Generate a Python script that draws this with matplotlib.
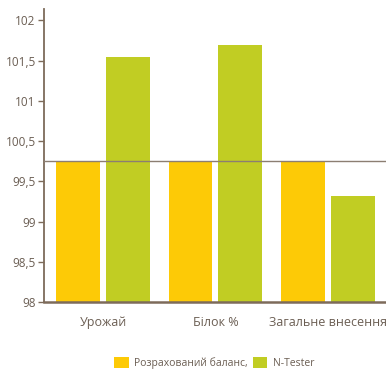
import numpy as np
import matplotlib.pyplot as plt
from matplotlib.ticker import FixedLocator

# --- data ---
categories = ['Урожай', 'Білок %', 'Загальне внесення']
balance_vals = [100.0, 100.0, 100.0]
ntester_vals = [101.48, 101.65, 99.51]
series_names = ['Розрахований баланс,', 'N-Tester']
ytick_labels = ['98', '98,5', '99', '99,5', '100,5', '101', '101,5', '102']
reference_level = 100.0

plt.rcParams['font.family'] = ['Open Sans', 'DejaVu Sans']

text_color = '#6b5e53'
axis_color = '#7d6b5a'
yellow = '#fdca06'
green = '#c1cd23'

fig = plt.figure(figsize=(3.86, 3.69), dpi=100)
ax = fig.add_axes([0.114, 0.181, 0.886, 0.794])

x = np.arange(len(categories))
width = 0.39
offset = 0.222
base = 98.0
b1 = ax.bar(x - offset, np.array(balance_vals) - base, width, bottom=base,
            color=yellow, label=series_names[0], zorder=2)
b2 = ax.bar(x + offset, np.array(ntester_vals) - base, width, bottom=base,
            color=green, label=series_names[1], zorder=2)

ax.axhline(reference_level, color='#8c7e72', lw=1.0, zorder=3)

ax.set_xlim(-0.524, 2.516)
ax.set_ylim(98, 102.16)

# tick labels are evenly spaced over the axis range
ax.yaxis.set_major_locator(FixedLocator(np.linspace(98, 102, len(ytick_labels))))
ax.set_yticklabels(ytick_labels)
ax.set_xticks(x)
ax.set_xticklabels(categories)

ax.tick_params(axis='y', colors=axis_color, labelcolor=text_color, length=4,
               width=1, pad=2, labelsize=8.5)
ax.tick_params(axis='x', length=0, pad=10, labelcolor=text_color, labelsize=9)

for s in ['top', 'right']:
    ax.spines[s].set_visible(False)
ax.spines['left'].set_color(axis_color)
ax.spines['left'].set_linewidth(1.3)
ax.spines['bottom'].set_color(axis_color)
ax.spines['bottom'].set_linewidth(1.8)
ax.spines['bottom'].set_zorder(4)

fig.legend(handles=[b1, b2], loc='center', bbox_to_anchor=(0.555, 0.017),
           ncol=2, frameon=False, fontsize=7.5, labelcolor=text_color,
           handlelength=1.4, handleheight=1.3, handletextpad=0.5,
           columnspacing=0.5)

plt.savefig('out.png', dpi=100)
